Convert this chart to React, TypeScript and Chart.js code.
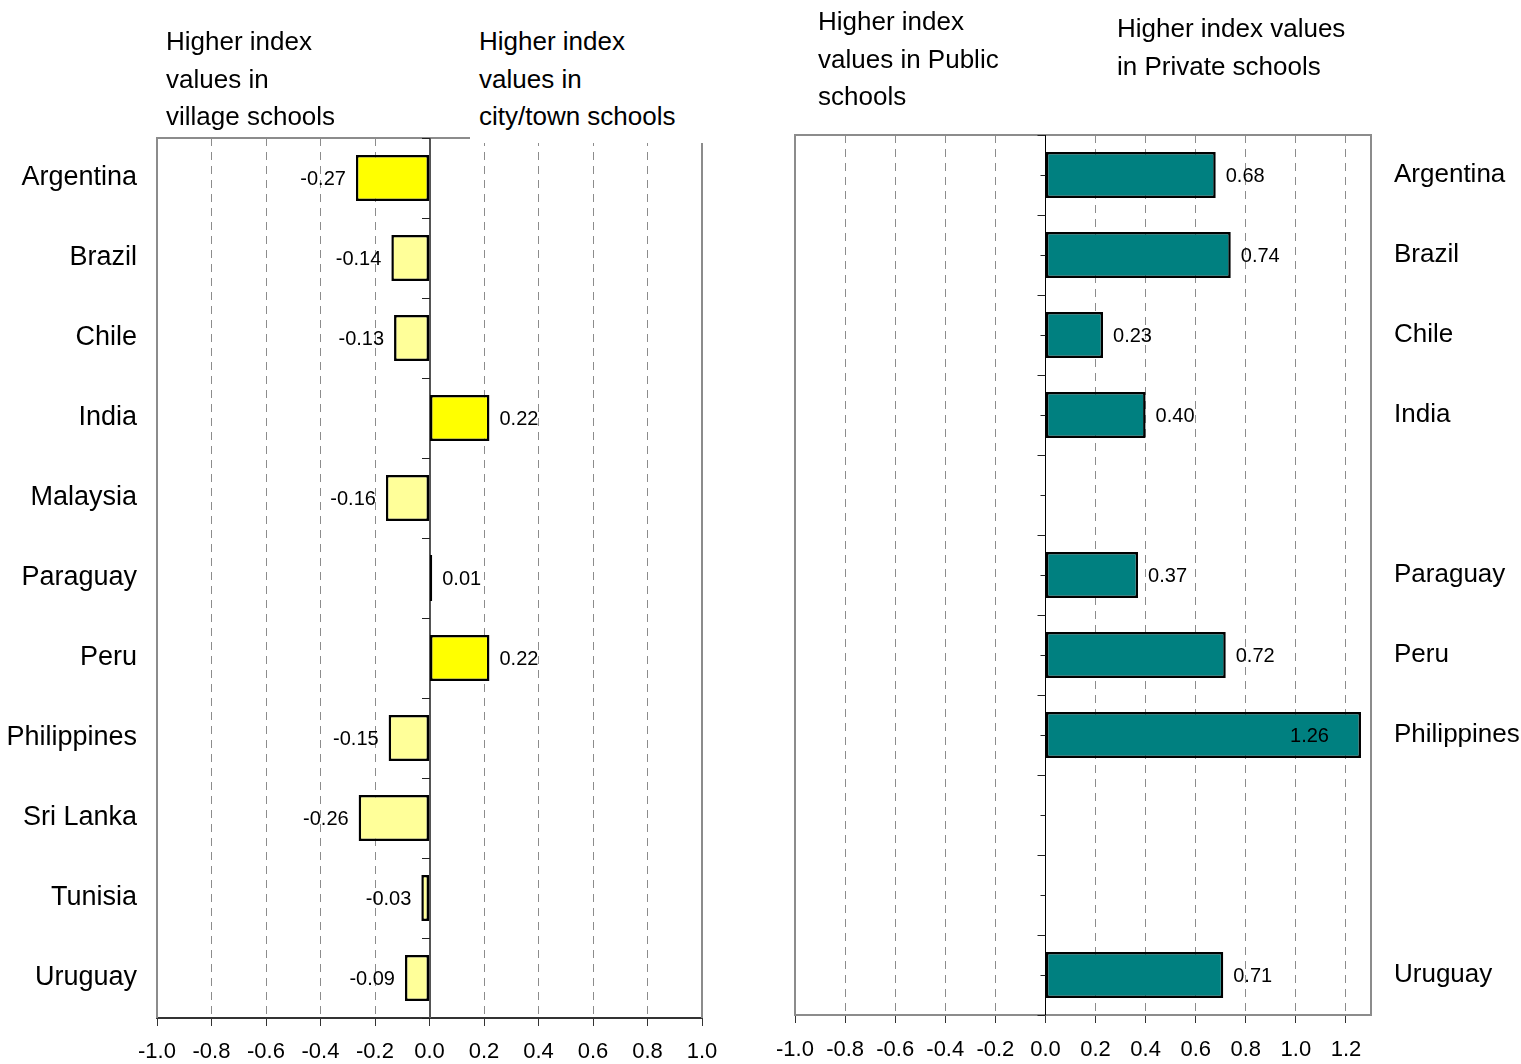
import React, { useEffect, useRef } from 'react';
import { Chart, registerables } from 'chart.js';

Chart.register(...registerables);

const FONT = "'Liberation Sans', Arial, Helvetica, sans-serif";

// Countries, listed top to bottom
const countries = [
  'Argentina', 'Brazil', 'Chile', 'India', 'Malaysia', 'Paraguay',
  'Peru', 'Philippines', 'Sri Lanka', 'Tunisia', 'Uruguay',
];

// Village vs city/town schools: difference in index values
const villageCityDiff = [-0.27, -0.14, -0.13, 0.22, -0.16, 0.01, 0.22, -0.15, -0.26, -0.03, -0.09];
// Differences flagged as significant get the stronger yellow
const villageCitySignificant = [true, false, false, true, false, false, true, false, false, false, false];

// Public vs private schools: difference in index values (null = not available)
const publicPrivateDiff = [0.68, 0.74, 0.23, 0.40, null, 0.37, 0.72, 1.26, null, null, 0.71];

// Axis ranges
const villageAxis = { min: -1.0, max: 1.0, step: 0.2 };
const sectorAxis = { min: -1.0, max: 1.3, step: 0.2 };

const STRONG_YELLOW = '#FFFF00';
const PALE_YELLOW = '#FFFF99';
const TEAL = '#008080';
const FRAME_GRAY = '#8c8c8c';
const GRID_GRAY = '#8c8c8c';

type DecorOptions = {
  zeroColor: string;
  zeroWidth: number;
  centreTicks: boolean;
};

// Plot frame, zero line with category ticks, and value labels beside the bars
function makeDecorPlugin(id: string, opts: DecorOptions) {
  return {
    id,
    beforeDatasetsDraw(chart: any) {
      const { ctx, chartArea } = chart;
      const xs = chart.scales.x;
      const ys = chart.scales.y;
      ctx.save();
      // frame: left, top, right
      ctx.strokeStyle = FRAME_GRAY;
      ctx.lineWidth = 2;
      ctx.beginPath();
      ctx.moveTo(chartArea.left, chartArea.bottom);
      ctx.lineTo(chartArea.left, chartArea.top);
      ctx.lineTo(chartArea.right, chartArea.top);
      ctx.lineTo(chartArea.right, chartArea.bottom);
      ctx.stroke();

      // zero line
      const x0 = Math.round(xs.getPixelForValue(0)) + (opts.zeroWidth % 2 ? 0.5 : 0);
      ctx.strokeStyle = opts.zeroColor;
      ctx.lineWidth = opts.zeroWidth;
      ctx.beginPath();
      ctx.moveTo(x0, chartArea.top);
      ctx.lineTo(x0, chartArea.bottom);
      ctx.stroke();

      // ticks on the zero line at category boundaries (and centres)
      ctx.strokeStyle = '#222';
      ctx.lineWidth = 1;
      const n = countries.length;
      for (let i = 0; i <= n; i++) {
        const yb = Math.round(ys.getPixelForValue(i - 0.5)) + 0.5;
        ctx.beginPath();
        ctx.moveTo(x0 - 8, yb);
        ctx.lineTo(x0, yb);
        ctx.stroke();
        if (opts.centreTicks && i < n) {
          const yc = Math.round(ys.getPixelForValue(i)) + 0.5;
          ctx.beginPath();
          ctx.moveTo(x0 - 5, yc);
          ctx.lineTo(x0, yc);
          ctx.stroke();
        }
      }
      ctx.restore();
    },
    afterDatasetsDraw(chart: any) {
      const { ctx, chartArea } = chart;
      const meta = chart.getDatasetMeta(0);
      const values = chart.data.datasets[0].data as (number | null)[];
      ctx.save();
      ctx.font = `20px ${FONT}`;
      ctx.fillStyle = '#000';
      ctx.textBaseline = 'middle';
      meta.data.forEach((bar: any, i: number) => {
        const v = values[i];
        if (v == null) return;
        const { x, y } = bar.getProps(['x', 'y'], true);
        const text = v.toFixed(2);
        const w = ctx.measureText(text).width;
        if (v < 0) {
          ctx.textAlign = 'right';
          ctx.fillText(text, x - 10, y + 1);
        } else if (x + 10 + w > chartArea.right) {
          ctx.textAlign = 'right';
          ctx.fillText(text, x - 32, y + 1);
        } else {
          ctx.textAlign = 'left';
          ctx.fillText(text, x + 10, y + 1);
        }
      });
      ctx.restore();
    },
  };
}

function xScaleOptions(range: { min: number; max: number; step: number }, borderColor: string, labelPad: number) {
  return {
    type: 'linear' as const,
    position: 'bottom' as const,
    min: range.min,
    max: range.max,
    afterBuildTicks(scale: any) {
      scale.ticks = scale.ticks.filter(
        (t: any) => Math.abs(Math.round(t.value / range.step) * range.step - t.value) < 1e-6,
      );
    },
    ticks: {
      stepSize: range.step,
      includeBounds: false,
      autoSkip: false,
      maxRotation: 0,
      padding: labelPad,
      color: '#000',
      font: { family: FONT, size: 22 },
      callback: (v: any) => Number(v).toFixed(1),
    },
    grid: {
      display: true,
      drawOnChartArea: true,
      drawTicks: true,
      tickLength: 8,
      tickColor: '#333',
      tickWidth: 1,
      tickBorderDash: [],
      lineWidth: 1,
      color: (c: any) => {
        const v = c.tick ? c.tick.value : 0;
        if (Math.abs(v) < 1e-6 || Math.abs(v - range.min) < 1e-6 || Math.abs(v - range.max) < 1e-6) {
          return 'rgba(0,0,0,0)';
        }
        return GRID_GRAY;
      },
    },
    border: { display: true, color: borderColor, width: 2, dash: [8, 6] },
  };
}

function VillageCityChart() {
  const ref = useRef<HTMLCanvasElement | null>(null);
  useEffect(() => {
    if (!ref.current) return;
    const chart = new Chart(ref.current, {
      type: 'bar',
      data: {
        labels: countries,
        datasets: [
          {
            data: villageCityDiff,
            backgroundColor: villageCitySignificant.map((s) => (s ? STRONG_YELLOW : PALE_YELLOW)),
            borderColor: '#000',
            borderWidth: 2.5,
            borderSkipped: false,
            categoryPercentage: 1,
            barPercentage: 0.575,
          },
        ],
      },
      options: {
        indexAxis: 'y',
        responsive: false,
        animation: false,
        layout: { padding: { top: 138, right: 58, left: 0, bottom: 0 } },
        plugins: { legend: { display: false }, tooltip: { enabled: false } },
        scales: {
          x: {
            ...xScaleOptions(villageAxis, '#333', 13),
            afterFit(scale: any) {
              scale.height = 46;
            },
          },
          y: {
            type: 'category',
            position: 'left',
            afterFit(scale: any) {
              scale.width = 157;
            },
            grid: { display: false, drawTicks: false },
            border: { display: false },
            ticks: {
              padding: 20,
              color: '#000',
              font: { family: FONT, size: 27 },
            },
          },
        },
      } as any,
      plugins: [makeDecorPlugin('villageDecor', { zeroColor: '#555', zeroWidth: 2, centreTicks: false })],
    });
    return () => chart.destroy();
  }, []);
  return <canvas ref={ref} width={760} height={1064} style={{ position: 'absolute', left: 0, top: 0 }} />;
}

function PublicPrivateChart() {
  const ref = useRef<HTMLCanvasElement | null>(null);
  useEffect(() => {
    if (!ref.current) return;
    const chart = new Chart(ref.current, {
      type: 'bar',
      data: {
        labels: countries,
        datasets: [
          {
            data: publicPrivateDiff,
            backgroundColor: TEAL,
            borderColor: '#000',
            borderWidth: 2.5,
            borderSkipped: false,
            categoryPercentage: 1,
            barPercentage: 0.575,
          },
        ],
      },
      options: {
        indexAxis: 'y',
        responsive: false,
        animation: false,
        layout: { padding: { top: 135, right: 0, left: 35, bottom: 0 } },
        plugins: { legend: { display: false }, tooltip: { enabled: false } },
        scales: {
          x: {
            ...xScaleOptions(sectorAxis, FRAME_GRAY, 14),
            afterFit(scale: any) {
              scale.height = 49;
            },
          },
          y: {
            type: 'category',
            position: 'right',
            afterFit(scale: any) {
              scale.width = 150;
            },
            grid: { display: false, drawTicks: false },
            border: { display: false },
            ticks: {
              padding: 23,
              color: '#000',
              font: { family: FONT, size: 26 },
              callback: (_v: any, i: number) => (publicPrivateDiff[i] == null ? '' : countries[i]),
            },
          },
        },
      } as any,
      plugins: [makeDecorPlugin('sectorDecor', { zeroColor: '#000', zeroWidth: 1, centreTicks: true })],
    });
    return () => chart.destroy();
  }, []);
  return <canvas ref={ref} width={761} height={1064} style={{ position: 'absolute', left: 760, top: 0 }} />;
}

const titleStyle: React.CSSProperties = {
  position: 'absolute',
  fontFamily: FONT,
  fontSize: 26,
  lineHeight: '37.5px',
  color: '#000',
  whiteSpace: 'pre',
  zIndex: 2,
};

export default function App() {
  return (
    <div style={{ position: 'absolute', left: 0, top: 0, width: 1521, height: 1064, background: '#fff', overflow: 'hidden' }}>
      <VillageCityChart />
      <PublicPrivateChart />
      <div style={{ ...titleStyle, left: 166, top: 23 }}>{'Higher index\nvalues in\nvillage schools'}</div>
      <div style={{ ...titleStyle, left: 470, top: 23, width: 236, height: 120, paddingLeft: 9, background: '#fff' }}>
        {'Higher index\nvalues in\ncity/town schools'}
      </div>
      <div style={{ ...titleStyle, left: 818, top: 3 }}>{'Higher index\nvalues in Public\nschools'}</div>
      <div style={{ ...titleStyle, left: 1117, top: 10 }}>{'Higher index values\nin Private schools'}</div>
    </div>
  );
}
